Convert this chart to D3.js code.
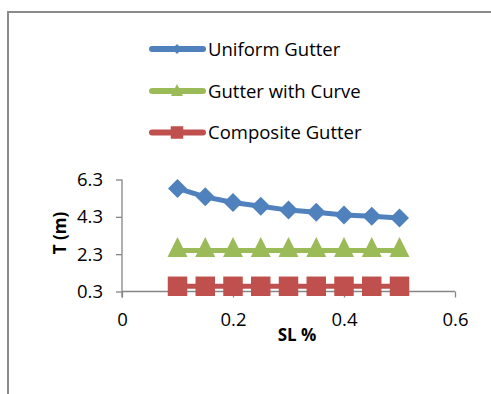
<!DOCTYPE html>
<html>
<head>
<meta charset="utf-8">
<script src="https://cdn.jsdelivr.net/npm/d3@7"></script>
<style>
  html, body { margin: 0; padding: 0; background: #fff; }
  svg text { font-family: "Open Sans", "Noto Sans", sans-serif; fill: #000; }
</style>
</head>
<body>
<svg id="chart" width="491" height="394"></svg>
<script>
// Slope (SL %) values along the x axis
const slopes = [0.1, 0.15, 0.2, 0.25, 0.3, 0.35, 0.4, 0.45, 0.5];
// Spread T (m) for each gutter type
const uniformGutter   = [5.82, 5.37, 5.07, 4.87, 4.66, 4.54, 4.40, 4.33, 4.24];
const gutterWithCurve = [2.5, 2.5, 2.5, 2.5, 2.5, 2.5, 2.5, 2.5, 2.5];
const compositeGutter = [0.58, 0.58, 0.58, 0.58, 0.58, 0.58, 0.58, 0.58, 0.58];
const seriesNames = ["Uniform Gutter", "Gutter with Curve", "Composite Gutter"];
const xTicks = [0, 0.2, 0.4, 0.6];
const yTicks = [0.3, 2.3, 4.3, 6.3];

const colors = ["#4F81BD", "#9BBB59", "#C0504D"];
const values = [uniformGutter, gutterWithCurve, compositeGutter];

// marker shapes; "size" is the full marker width in px
const diamond = { draw(ctx, s) { const h = s / 2; ctx.moveTo(0, -h); ctx.lineTo(h, 0); ctx.lineTo(0, h); ctx.lineTo(-h, 0); ctx.closePath(); } };
const triangle = { draw(ctx, s) { const h = s / 2; ctx.moveTo(0, -s * 2 / 3); ctx.lineTo(h, s / 3); ctx.lineTo(-h, s / 3); ctx.closePath(); } };
const square = { draw(ctx, s) { const h = s / 2; ctx.rect(-h, -h, s, s); } };
const shapes = [diamond, triangle, square];

const svg = d3.select("#chart");

// outer chart frame
svg.append("path")
  .attr("d", "M8,394 V12 H491")
  .attr("fill", "none")
  .attr("stroke", "#8a8a8a")
  .attr("stroke-width", 2);

const plot = { left: 122, right: 455, top: 179.5, bottom: 291.5 };
const x = d3.scaleLinear().domain([0, 0.6]).range([plot.left, plot.right]);
const y = d3.scaleLinear().domain([0.3, 6.3]).range([plot.bottom, plot.top]);

const axisColor = "#868686";

// x axis
const xAxis = svg.append("g")
  .attr("transform", `translate(0,${plot.bottom})`)
  .call(d3.axisBottom(x).tickValues(xTicks).tickSize(6).tickPadding(15)
    .tickFormat(d => d === 0 ? "0" : d3.format(".1f")(d)));
xAxis.select(".domain").attr("stroke", axisColor).attr("stroke-width", 1.3)
  .attr("d", `M${plot.left},0H${plot.right}`);
xAxis.selectAll(".tick line").attr("stroke", axisColor).attr("stroke-width", 1.3);
xAxis.selectAll(".tick text").attr("font-size", 18.5).attr("fill", "#000");

// y axis
const yAxis = svg.append("g")
  .attr("transform", `translate(${plot.left},0)`)
  .call(d3.axisLeft(y).tickValues(yTicks).tickSize(6).tickPadding(13)
    .tickFormat(d3.format(".1f")));
yAxis.select(".domain").attr("stroke", axisColor).attr("stroke-width", 1.3)
  .attr("d", `M0,${plot.top}V${plot.bottom + 6}`);
yAxis.selectAll(".tick line").attr("stroke", axisColor).attr("stroke-width", 1.3);
yAxis.selectAll(".tick text").attr("font-size", 18.5).attr("fill", "#000");

// axis titles
svg.append("text")
  .attr("x", 297).attr("y", 341)
  .attr("text-anchor", "middle")
  .attr("font-size", 17).attr("font-weight", "bold")
  .text("SL %");
svg.append("text")
  .attr("transform", `translate(66,233) rotate(-90)`)
  .attr("text-anchor", "middle")
  .attr("font-size", 17).attr("font-weight", "bold")
  .text("T (m)");

// series lines and markers
const line = d3.line().x((d, i) => x(slopes[i])).y(d => y(d));
const markerSize = [19, 20, 19.5];

values.forEach((vals, s) => {
  const g = svg.append("g");
  g.append("path")
    .datum(vals)
    .attr("d", line)
    .attr("fill", "none")
    .attr("stroke", colors[s])
    .attr("stroke-width", 5)
    .attr("stroke-linejoin", "round");
  g.selectAll("path.mark")
    .data(vals)
    .join("path")
    .attr("class", "mark")
    .attr("transform", (d, i) => `translate(${x(slopes[i])},${y(d)})`)
    .attr("d", d3.symbol().type(shapes[s]).size(markerSize[s]))
    .attr("fill", colors[s]);
});

// legend
const legend = svg.append("g");
const legendRows = [49, 91, 132.5];
const legendMarker = [10, 12, 12.5];
seriesNames.forEach((name, s) => {
  const row = legend.append("g").attr("transform", `translate(0,${legendRows[s]})`);
  row.append("line")
    .attr("x1", 152).attr("x2", 203).attr("y1", 0).attr("y2", 0)
    .attr("stroke", colors[s]).attr("stroke-width", 6).attr("stroke-linecap", "round");
  row.append("path")
    .attr("transform", `translate(177,${s === 1 ? 1 : 0})`)
    .attr("d", d3.symbol().type(shapes[s]).size(legendMarker[s]))
    .attr("fill", colors[s]);
  row.append("text")
    .attr("x", 208).attr("y", 0).attr("dy", "0.36em")
    .attr("font-size", 18.5)
    .text(name);
});
</script>
</body>
</html>
